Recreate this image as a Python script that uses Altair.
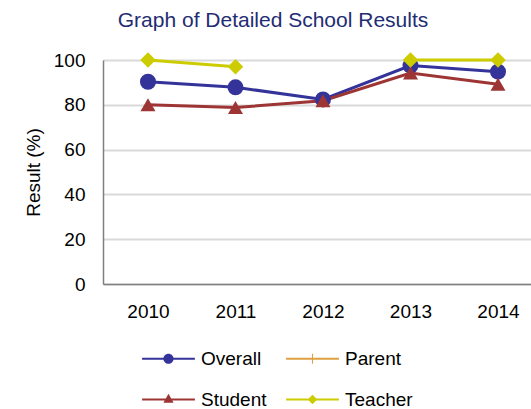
import altair as alt
import pandas as pd

years = [2010, 2011, 2012, 2013, 2014]
series_names = ["Overall", "Parent", "Student", "Teacher"]
overall = [90.3, 87.8, 82.4, 97.5, 94.8]
parent = [None, None, None, None, None]
student = [80.0, 78.8, 81.8, 94.2, 89.2]
teacher = [100.0, 97.0, None, 100.0, 100.0]
y_ticks = [0, 20, 40, 60, 80, 100]

series_colors = ["#33339A", "#DDA040", "#9E3535", "#CCCC00"]
marker_shapes = ["circle", "cross", "triangle-up", "diamond"]
marker_sizes = [256, 200, 225, 240]

# legend symbols: a short line with the series marker (custom SVG paths)
_line = "M-4.4,-0.17H4.4V0.17H-4.4Z"
legend_paths = [
    _line + "M-0.85,0A0.85,0.85,0,1,1,0.85,0A0.85,0.85,0,1,1,-0.85,0Z",
    _line + "M-0.09,-0.85H0.09V0.85H-0.09Z",
    _line + "M0,-0.95L0.85,0.55L-0.85,0.55Z",
    _line + "M0,-0.8L0.8,0L0,0.8L-0.8,0Z",
]

rows = []
for name, vals in zip(series_names, [overall, parent, student, teacher]):
    for yr, v in zip(years, vals):
        rows.append({"year": yr, "series": name, "value": v})
df = pd.DataFrame(rows)

FONT = "Liberation Sans"

x_enc = alt.X(
    "year:Q",
    scale=alt.Scale(domain=[2009.486, 2014.377], nice=False, zero=False),
    axis=alt.Axis(values=years, format="d", title=None, grid=False),
)
y_enc = alt.Y(
    "value:Q",
    scale=alt.Scale(domain=[0, 100], nice=False),
    axis=alt.Axis(values=y_ticks, title="Result (%)", grid=True, titlePadding=10),
)
color_scale = alt.Scale(domain=series_names, range=series_colors)

base = alt.Chart(df)

leg = alt.Legend(
    title=None,
    orient="none",
    direction="horizontal",
    legendX=56,
    legendY=289,
    columns=2,
    columnPadding=19,
    rowPadding=21,
    padding=0,
    labelFont=FONT,
    labelFontSize=19,
    labelColor="black",
    labelOffset=23,
    symbolOpacity=1,
    symbolStrokeWidth=0,
    symbolSize=144,
)

# legend-only layer: no marks drawn (empty after filter), legend built from the scale domains
legend_layer = (
    base.transform_filter("datum.value > 1000")
    .mark_point(filled=True, size=144)
    .encode(
        x=x_enc,
        y=y_enc,
        color=alt.Color("series:N", scale=color_scale, legend=leg),
        shape=alt.Shape(
            "series:N",
            scale=alt.Scale(domain=series_names, range=legend_paths),
            legend=leg,
        ),
    )
)

lines = base.mark_line(strokeWidth=3, invalid="break-paths-show-domains").encode(
    x=x_enc,
    y=y_enc,
    color=alt.Color("series:N", scale=color_scale),
    detail="series:N",
)

point_layers = []
for name, shp, sz in zip(series_names, marker_shapes, marker_sizes):
    point_layers.append(
        base.transform_filter(alt.datum.series == name)
        .mark_point(filled=True, shape=shp, size=sz, opacity=1)
        .encode(
            x=x_enc,
            y=y_enc,
            color=alt.Color("series:N", scale=color_scale),
        )
    )

chart = (
    alt.layer(legend_layer, lines, *point_layers)
    .properties(
        width=428,
        height=224,
        autosize=alt.AutoSizeParams(type="none"),
        padding={"left": 103, "top": 60, "right": 0, "bottom": 125},
        title=alt.Title(
            "Graph of Detailed School Results",
            font=FONT,
            fontSize=21,
            fontWeight="normal",
            color="#1F2D73",
            anchor="middle",
            frame="group",
            dx=-44,
            dy=-16,
        ),
        background="white",
    )
    .configure_axis(
        labelFont=FONT,
        labelFontSize=19,
        labelColor="black",
        titleFont=FONT,
        titleFontSize=19,
        titleColor="black",
        titleFontWeight="normal",
        domainColor="#7F7F7F",
        domainWidth=1.5,
        gridColor="#D9D9D9",
        gridWidth=2,
        ticks=False,
        tickSize=0,
        labelPadding=18,
    )
    .configure_view(strokeWidth=0)
)

chart.save("out.html", embed_options={"renderer": "svg", "actions": False})
